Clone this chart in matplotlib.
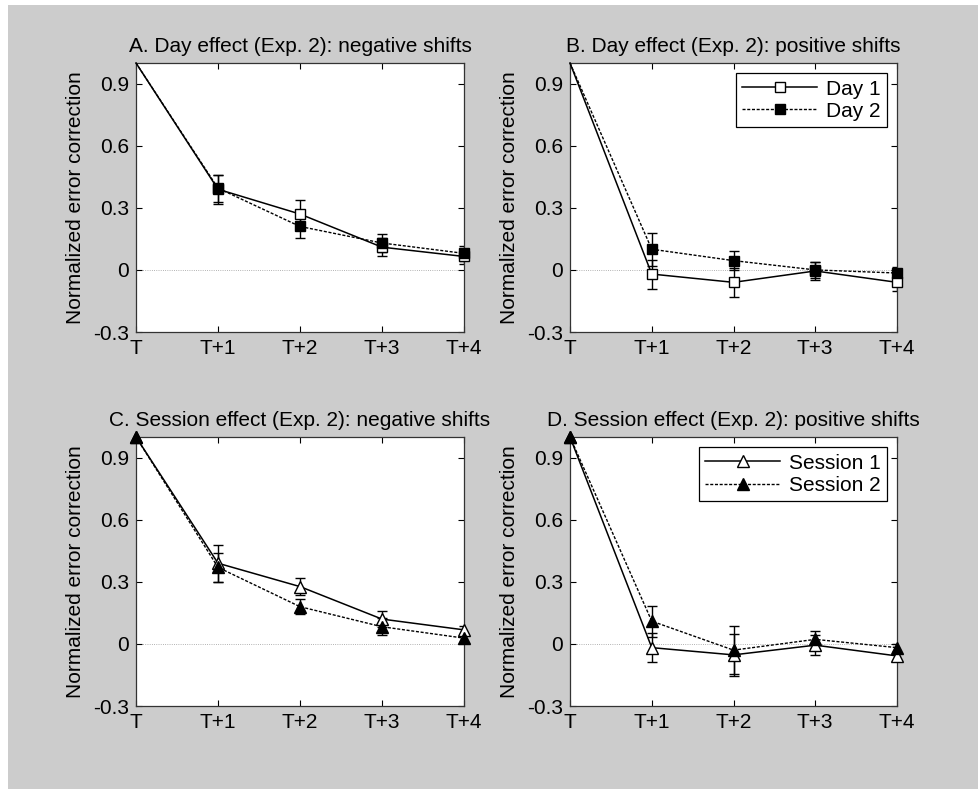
import numpy as np
import matplotlib.pyplot as plt
from matplotlib.patches import Rectangle

plt.rcParams['font.family'] = ['Liberation Sans', 'DejaVu Sans']
plt.rcParams['font.size'] = 15

# Lag positions and tick labels
lags = [0, 1, 2, 3, 4]
lag_labels = ["T", "T+1", "T+2", "T+3", "T+4"]

# A. Day effect, negative shifts
day1_neg = [1.0, 0.39, 0.27, 0.11, 0.065]
day1_neg_err = [0, 0.07, 0.07, 0.045, 0.035]
day2_neg = [1.0, 0.395, 0.21, 0.13, 0.08]
day2_neg_err = [0, 0.065, 0.055, 0.045, 0.035]

# B. Day effect, positive shifts
day1_pos = [1.0, -0.02, -0.06, -0.005, -0.06]
day1_pos_err = [0, 0.07, 0.07, 0.045, 0.04]
day2_pos = [1.0, 0.10, 0.045, 0.0, -0.015]
day2_pos_err = [0, 0.08, 0.045, 0.04, 0.03]

# C. Session effect, negative shifts
sess1_neg = [1.0, 0.39, 0.277, 0.12, 0.068]
sess1_neg_err = [0, 0.09, 0.04, 0.04, 0.02]
sess2_neg = [1.0, 0.37, 0.18, 0.083, 0.028]
sess2_neg_err = [0, 0.07, 0.035, 0.04, 0.02]

# D. Session effect, positive shifts
sess1_pos = [1.0, -0.018, -0.053, -0.006, -0.058]
sess1_pos_err = [0, 0.07, 0.10, 0.047, 0.02]
sess2_pos = [1.0, 0.11, -0.03, 0.022, -0.018]
sess2_pos_err = [0, 0.075, 0.115, 0.04, 0.02]

titles = ["A. Day effect (Exp. 2): negative shifts",
          "B. Day effect (Exp. 2): positive shifts",
          "C. Session effect (Exp. 2): negative shifts",
          "D. Session effect (Exp. 2): positive shifts"]

W, H = 979, 789
fig = plt.figure(figsize=(W / 100, H / 100), dpi=100, facecolor="white")
fig.add_artist(Rectangle((8 / W, 0), 1 - 8 / W, 1 - 5 / H, transform=fig.transFigure,
                         facecolor="#cccccc", edgecolor="none", zorder=-10))

# axes boxes in pixels: left, top, right, bottom
boxes = [(136, 63, 464, 332), (570, 63, 897, 332),
         (136, 437, 464, 706), (570, 437, 897, 706)]

dash = (0, (2.2, 1.2))
panels = [
    (day1_neg, day1_neg_err, day2_neg, day2_neg_err, "s", "Day", False),
    (day1_pos, day1_pos_err, day2_pos, day2_pos_err, "s", "Day", True),
    (sess1_neg, sess1_neg_err, sess2_neg, sess2_neg_err, "^", "Session", False),
    (sess1_pos, sess1_pos_err, sess2_pos, sess2_pos_err, "^", "Session", True),
]

for i, (box, panel) in enumerate(zip(boxes, panels)):
    l, t, r, b = box
    ax = fig.add_axes([l / W, (H - b) / H, (r - l) / W, (b - t) / H])
    y1, e1, y2, e2, mk, name, show_leg = panel
    ms = 7 if mk == "s" else 9
    # squares are only drawn from T+1, triangles from T
    marks = list(range(1, 5)) if mk == "s" else list(range(5))

    ax.axhline(0, color="#999999", lw=0.6, ls=":", zorder=1)

    ax.errorbar(lags[1:], y1[1:], yerr=e1[1:], fmt="none", ecolor="black",
                elinewidth=1, capsize=3.5, capthick=1, zorder=2)
    ax.errorbar(lags[1:], y2[1:], yerr=e2[1:], fmt="none", ecolor="black",
                elinewidth=1, capsize=3.5, capthick=1, zorder=2)

    ax.plot(lags, y1, color="black", lw=1.1, ls="-", marker=mk, markevery=marks,
            ms=ms, mfc="white", mec="black", mew=1, label=f"{name} 1",
            clip_on=False, zorder=3)
    ax.plot(lags, y2, color="black", lw=1.0, ls=dash, marker=mk, markevery=marks,
            ms=ms, mfc="black", mec="black", mew=1, label=f"{name} 2",
            clip_on=False, zorder=4)

    ax.set_xlim(0, 4)
    ax.set_ylim(-0.3, 1.0)
    ax.set_xticks(lags)
    ax.set_xticklabels(lag_labels)
    ax.set_yticks([-0.3, 0, 0.3, 0.6, 0.9])
    ax.set_yticklabels(["-0.3", "0", "0.3", "0.6", "0.9"])
    ax.tick_params(direction="in", length=4, width=0.8, top=True, right=True,
                   labelsize=15, colors="black")
    ax.tick_params(axis="x", pad=5)
    ax.tick_params(axis="y", pad=5)
    for s in ax.spines.values():
        s.set_linewidth(0.9)
        s.set_color("#333333")
    ax.set_ylabel("Normalized error correction", fontsize=15, labelpad=6)
    ax.set_title(titles[i], fontsize=15, pad=8)

    if show_leg:
        leg = ax.legend(loc="upper right", fontsize=15, handlelength=3.6,
                        fancybox=False, framealpha=1, edgecolor="black",
                        borderpad=0.3, labelspacing=0.15, handletextpad=0.4,
                        borderaxespad=0.5)
        leg.get_frame().set_linewidth(0.9)

fig.savefig("out.png", dpi=100, facecolor=fig.get_facecolor())
